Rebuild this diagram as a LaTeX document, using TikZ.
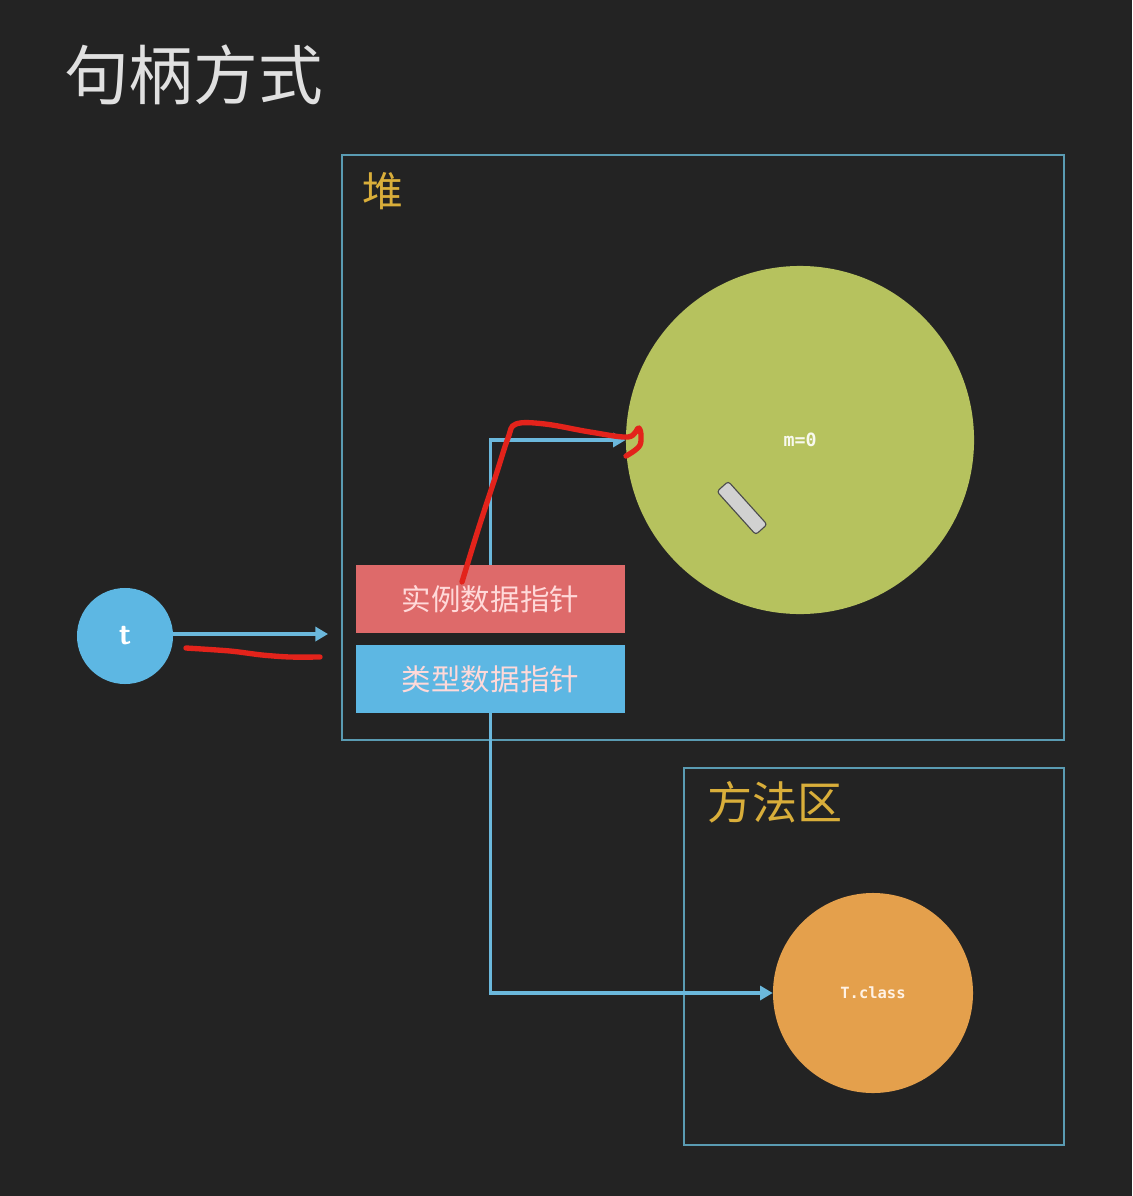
\documentclass[tikz,border=0pt]{standalone}
\usepackage{fontspec}
\newfontfamily\cjk{Noto Sans CJK SC}
\newfontfamily\monof{DejaVu Sans Mono}
\usetikzlibrary{arrows.meta}
\definecolor{bg}{HTML}{232323}
\definecolor{frame}{HTML}{5A9BB2}
\definecolor{gold}{HTML}{D9AE3A}
\definecolor{greenc}{HTML}{B6C25E}
\definecolor{orangec}{HTML}{E4A04C}
\definecolor{blueb}{HTML}{5DB7E3}
\definecolor{redb}{HTML}{DE6A6A}
\definecolor{conn}{HTML}{6BB8DC}
\definecolor{scribble}{HTML}{E3231B}
\tikzset{
  area/.style={draw=frame, line width=1.4pt, inner sep=0pt},
  arealabel/.style={text=gold, font=\cjk, anchor=north west, inner sep=0pt},
  ptrbox/.style={minimum width=6.725cm, minimum height=1.7cm, inner sep=0pt, text=white!85!red, font=\cjk\fontsize{21}{24}\selectfont},
  conn/.style={draw=conn, line width=2.2pt, arrows={-Triangle[length=9pt,width=10pt]}},
  scrib/.style={draw=scribble, line width=3.8pt, line cap=round, line join=round},
}
\begin{document}
\begin{tikzpicture}[x=0.025cm, y=-0.025cm]
\fill[bg] (0,0) rectangle (1132,1196);
\useasboundingbox (0,0) rectangle (1132,1196);

\node[anchor=north west, inner sep=0pt, text=white!88!black, font=\cjk\fontsize{46}{52}\selectfont] (title) at (64,44) {句柄方式};

\node[area, minimum width=18.05cm, minimum height=14.625cm] (heap) at (703,447.5) {};
\node[arealabel, font=\cjk\fontsize{29}{33}\selectfont] (heaplbl) at (362,172) {堆};

\node[area, minimum width=9.5cm, minimum height=9.425cm] (method) at (874,956.5) {};
\node[arealabel, font=\cjk\fontsize{32}{36}\selectfont] (methodlbl) at (707,781) {方法区};

\node[circle, fill=greenc, minimum size=8.7cm, inner sep=0pt, text=white!90!greenc, font=\monof\bfseries\fontsize{13}{15}\selectfont] (obj) at (800,440) {m=0};
\node[circle, fill=orangec, minimum size=5cm, inner sep=0pt, text=white!90!orange, font=\monof\bfseries\fontsize{11}{13}\selectfont] (tclass) at (873,993) {T.class};

\node[ptrbox, fill=redb] (inst) at (490.5,599) {实例数据指针};
\node[ptrbox, fill=blueb] (type) at (490.5,679) {类型数据指针};

\node[circle, fill=blueb, minimum size=2.4cm, inner sep=0pt, text=white, font=\sffamily\bfseries\fontsize{22}{24}\selectfont] (t) at (125,636) {t};
\coordinate (tend) at (328,634);

\draw[conn] (inst.north) |- (obj.west);
\draw[conn] (type.south) |- (tclass.west);
\draw[conn] (t.east |- tend) -- (tend);

% pencil cursor
\node[draw=black!70, fill=black!18, line width=0.8pt, rounded corners=2pt, minimum width=1.45cm, minimum height=0.38cm, inner sep=0pt, rotate=-48] (pencil) at (742,508) {};

% red scribbles
\draw[scrib] plot[smooth, tension=0.6] coordinates {(462,582) (478,530) (496,475) (508,438) (516,424) (545,424) (590,432) (628,437) (639,428) (640,445) (626,456)};
\draw[scrib] plot[smooth, tension=0.5] coordinates {(186,648) (230,651) (262,655) (290,657) (320,657)};
\end{tikzpicture}
\end{document}
